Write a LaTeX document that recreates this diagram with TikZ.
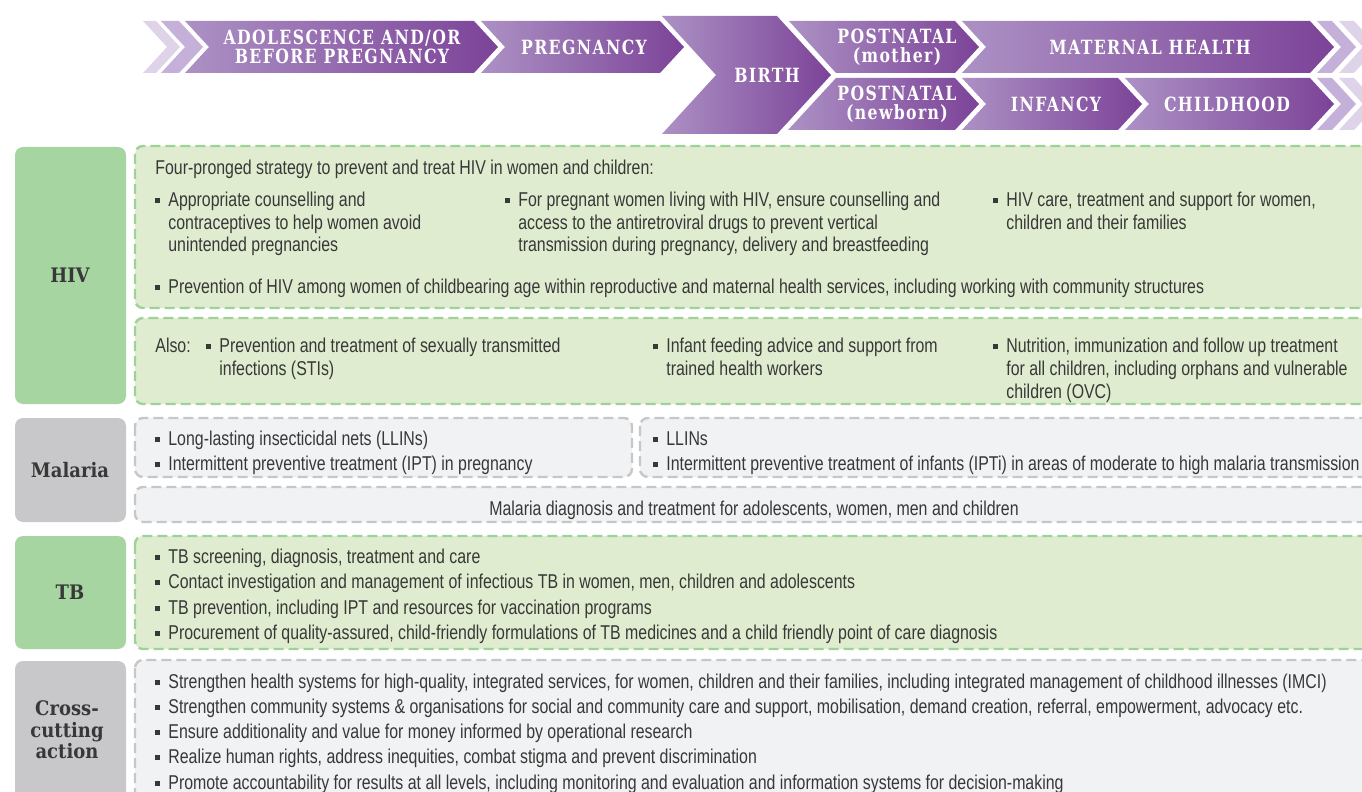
\documentclass[tikz,border=0pt]{standalone}
\usepackage{fontspec}
\setmainfont{Liberation Sans}[FakeStretch=0.795]
\newfontfamily\catfont{DejaVu Serif}[FakeStretch=0.9]
\newfontfamily\chevfont{DejaVu Serif}[FakeStretch=0.8,LetterSpace=7]

\definecolor{txt}{HTML}{383838}
\definecolor{gcat}{HTML}{A7D5A1}
\definecolor{gfill}{HTML}{E0ECCF}
\definecolor{gdash}{HTML}{9DD39A}
\definecolor{ycat}{HTML}{C8C8CA}
\definecolor{yfill}{HTML}{F1F2F3}
\definecolor{ydash}{HTML}{C6C7C8}
\definecolor{pdark}{HTML}{7C4398}
\definecolor{plight}{HTML}{AC91C4}
\definecolor{pghost}{HTML}{C4B0D8}
\definecolor{pfaint}{HTML}{DFD3EA}

% small square bullet and a bulleted item that may run over several lines
\newcommand\sq{\textcolor{txt}{\rule[1.4pt]{2.5pt}{2.5pt}}}
\newcommand\bitem[1]{\makebox[6.5pt][l]{\sq}\begin{tabular}[t]{@{}l@{}}#1\end{tabular}}

\tikzset{
  x=0.5pt, y=-0.5pt,
  body/.style={inner sep=0, anchor=base west, text=txt, font=\fontsize{10}{11.5}\selectfont},
  catlabel/.style={inner sep=0, text=txt, align=center, font=\catfont\bfseries\fontsize{10}{10.75}\selectfont},
  chevtxt/.style={inner sep=0, text=white, align=center, font=\chevfont\bfseries\fontsize{9.8}{9.5}\selectfont},
  greencat/.style={fill=gcat, rounded corners=4pt},
  graycat/.style={fill=ycat, rounded corners=4pt},
  greenbox/.style={fill=gfill, draw=gdash, line width=1.2pt, dash pattern=on 5pt off 2.5pt, rounded corners=4pt},
  graybox/.style={fill=yfill, draw=ydash, line width=1.2pt, dash pattern=on 5pt off 2.5pt, rounded corners=4pt},
  stage/.style={left color=plight, right color=pdark},
}

\begin{document}
\begin{tikzpicture}
\useasboundingbox (0,0) rectangle (1362,792);
\clip (0,0) rectangle (1362,792);

% ---------- life-course chevrons ----------
% left fading arrows
\fill[pfaint] (143,21) -- (156,21) -- (180,47) -- (156,73) -- (143,73) -- (167,47) -- cycle;
\fill[pghost] (161,21) -- (179,21) -- (203,47) -- (179,73) -- (161,73) -- (185,47) -- cycle;
% top row
\shade[stage] (185,21) -- (474,21) -- (498,47) -- (474,73) -- (185,73) -- (209,47) -- cycle;
\shade[stage] (481,21) -- (660,21) -- (684,47) -- (660,73) -- (481,73) -- (505,47) -- cycle;
% birth spans both rows
\shade[stage] (662,16) -- (777,16) -- (831,75) -- (777,134) -- (662,134) -- (716,75) -- cycle;
\shade[stage] (789,21) -- (955,21) -- (979,47) -- (955,73) -- (836,73) -- cycle;
\shade[stage] (962,21) -- (1310,21) -- (1334,47) -- (1310,73) -- (962,73) -- (986,47) -- cycle;
% bottom row
\shade[stage] (836,78) -- (955,78) -- (979,104) -- (955,130) -- (788,130) -- cycle;
\shade[stage] (962,78) -- (1118,78) -- (1142,104) -- (1118,130) -- (962,130) -- (986,104) -- cycle;
\shade[stage] (1125,78) -- (1310,78) -- (1334,104) -- (1310,130) -- (1125,130) -- (1149,104) -- cycle;
% right fading arrows
\fill[pghost] (1317,21) -- (1332,21) -- (1356,47) -- (1332,73) -- (1317,73) -- (1341,47) -- cycle;
\fill[pfaint] (1339,21) -- (1354,21) -- (1378,47) -- (1354,73) -- (1339,73) -- (1363,47) -- cycle;
\fill[pghost] (1317,78) -- (1332,78) -- (1356,104) -- (1332,130) -- (1317,130) -- (1341,104) -- cycle;
\fill[pfaint] (1339,78) -- (1354,78) -- (1378,104) -- (1354,130) -- (1339,130) -- (1363,104) -- cycle;

\node[chevtxt] (adol)  at (342,47)  {ADOLESCENCE AND/OR\\BEFORE PREGNANCY};
\node[chevtxt] (preg)  at (584,47)  {PREGNANCY};
\node[chevtxt] (birth) at (767,75)  {BIRTH};
\node[chevtxt] (pnm)   at (897,47)  {POSTNATAL\\(mother)};
\node[chevtxt] (mh)    at (1150,47) {MATERNAL HEALTH};
\node[chevtxt] (pnn)   at (897,104) {POSTNATAL\\(newborn)};
\node[chevtxt] (inf)   at (1056,104) {INFANCY};
\node[chevtxt] (child) at (1227,104) {CHILDHOOD};

% ---------- category column ----------
\fill[greencat] (15,147) rectangle (126,404);
\fill[graycat]  (15,418) rectangle (126,522);
\fill[greencat] (15,536) rectangle (126,649);
\fill[graycat]  (15,661) rectangle (126,820);
\node[catlabel] (hiv)  at (70,275) {HIV};
\node[catlabel] (mal)  at (70,470) {Malaria};
\node[catlabel] (tb)   at (70,592) {TB};
\node[catlabel] (cross) at (67,730) {Cross-\\cutting\\action};

% ---------- content panels ----------
\draw[greenbox] (135,146) rectangle (1390,308);
\draw[greenbox] (135,318) rectangle (1390,404);
\draw[graybox]  (135,418) rectangle (632,477);
\draw[graybox]  (640,418) rectangle (1390,477);
\draw[graybox]  (135,487) rectangle (1390,522);
\draw[greenbox] (135,536) rectangle (1390,649);
\draw[graybox]  (135,660) rectangle (1390,820);

% HIV
\node[body] (h0) at (155,175) {Four-pronged strategy to prevent and treat HIV in women and children:};
\node[body] (h1) at (155,206) {\bitem{Appropriate counselling and\\contraceptives to help women avoid\\unintended pregnancies}};
\node[body] (h2) at (505,206) {\bitem{For pregnant women living with HIV, ensure counselling and\\access to the antiretroviral drugs to prevent vertical\\transmission during pregnancy, delivery and breastfeeding}};
\node[body] (h3) at (993,206) {\bitem{HIV care, treatment and support for women,\\children and their families}};
\node[body] (h4) at (155,293) {\bitem{Prevention of HIV among women of childbearing age within reproductive and maternal health services, including working with community structures}};
\node[body] (a0) at (155,352) {Also:};
\node[body] (a1) at (206,352) {\bitem{Prevention and treatment of sexually transmitted\\infections (STIs)}};
\node[body] (a2) at (653,352) {\bitem{Infant feeding advice and support from\\trained health workers}};
\node[body] (a3) at (993,352) {\bitem{Nutrition, immunization and follow up treatment\\for all children, including orphans and vulnerable\\children (OVC)}};

% Malaria
\node[body] (m1) at (155,445) {\bitem{Long-lasting insecticidal nets (LLINs)}};
\node[body] (m2) at (155,470) {\bitem{Intermittent preventive treatment (IPT) in pregnancy}};
\node[body] (m3) at (653,445) {\bitem{LLINs}};
\node[body] (m4) at (653,470) {\bitem{Intermittent preventive treatment of infants (IPTi) in areas of moderate to high malaria transmission}};
\node[body, anchor=base] (m5) at (754,515) {Malaria diagnosis and treatment for adolescents, women, men and children};

% TB
\node[body] (t1) at (155,563) {\bitem{TB screening, diagnosis, treatment and care}};
\node[body] (t2) at (155,588) {\bitem{Contact investigation and management of infectious TB in women, men, children and adolescents}};
\node[body] (t3) at (155,614) {\bitem{TB prevention, including IPT and resources for vaccination programs}};
\node[body] (t4) at (155,639) {\bitem{Procurement of quality-assured, child-friendly formulations of TB medicines and a child friendly point of care diagnosis}};

% Cross-cutting
\node[body] (c1) at (155,688) {\bitem{Strengthen health systems for high-quality, integrated services, for women, children and their families, including integrated management of childhood illnesses (IMCI)}};
\node[body] (c2) at (155,713) {\bitem{Strengthen community systems \& organisations for social and community care and support, mobilisation, demand creation, referral, empowerment, advocacy etc.}};
\node[body] (c3) at (155,738) {\bitem{Ensure additionality and value for money informed by operational research}};
\node[body] (c4) at (155,763) {\bitem{Realize human rights, address inequities, combat stigma and prevent discrimination}};
\node[body] (c5) at (155,789) {\bitem{Promote accountability for results at all levels, including monitoring and evaluation and information systems for decision-making}};
\end{tikzpicture}
\end{document}
